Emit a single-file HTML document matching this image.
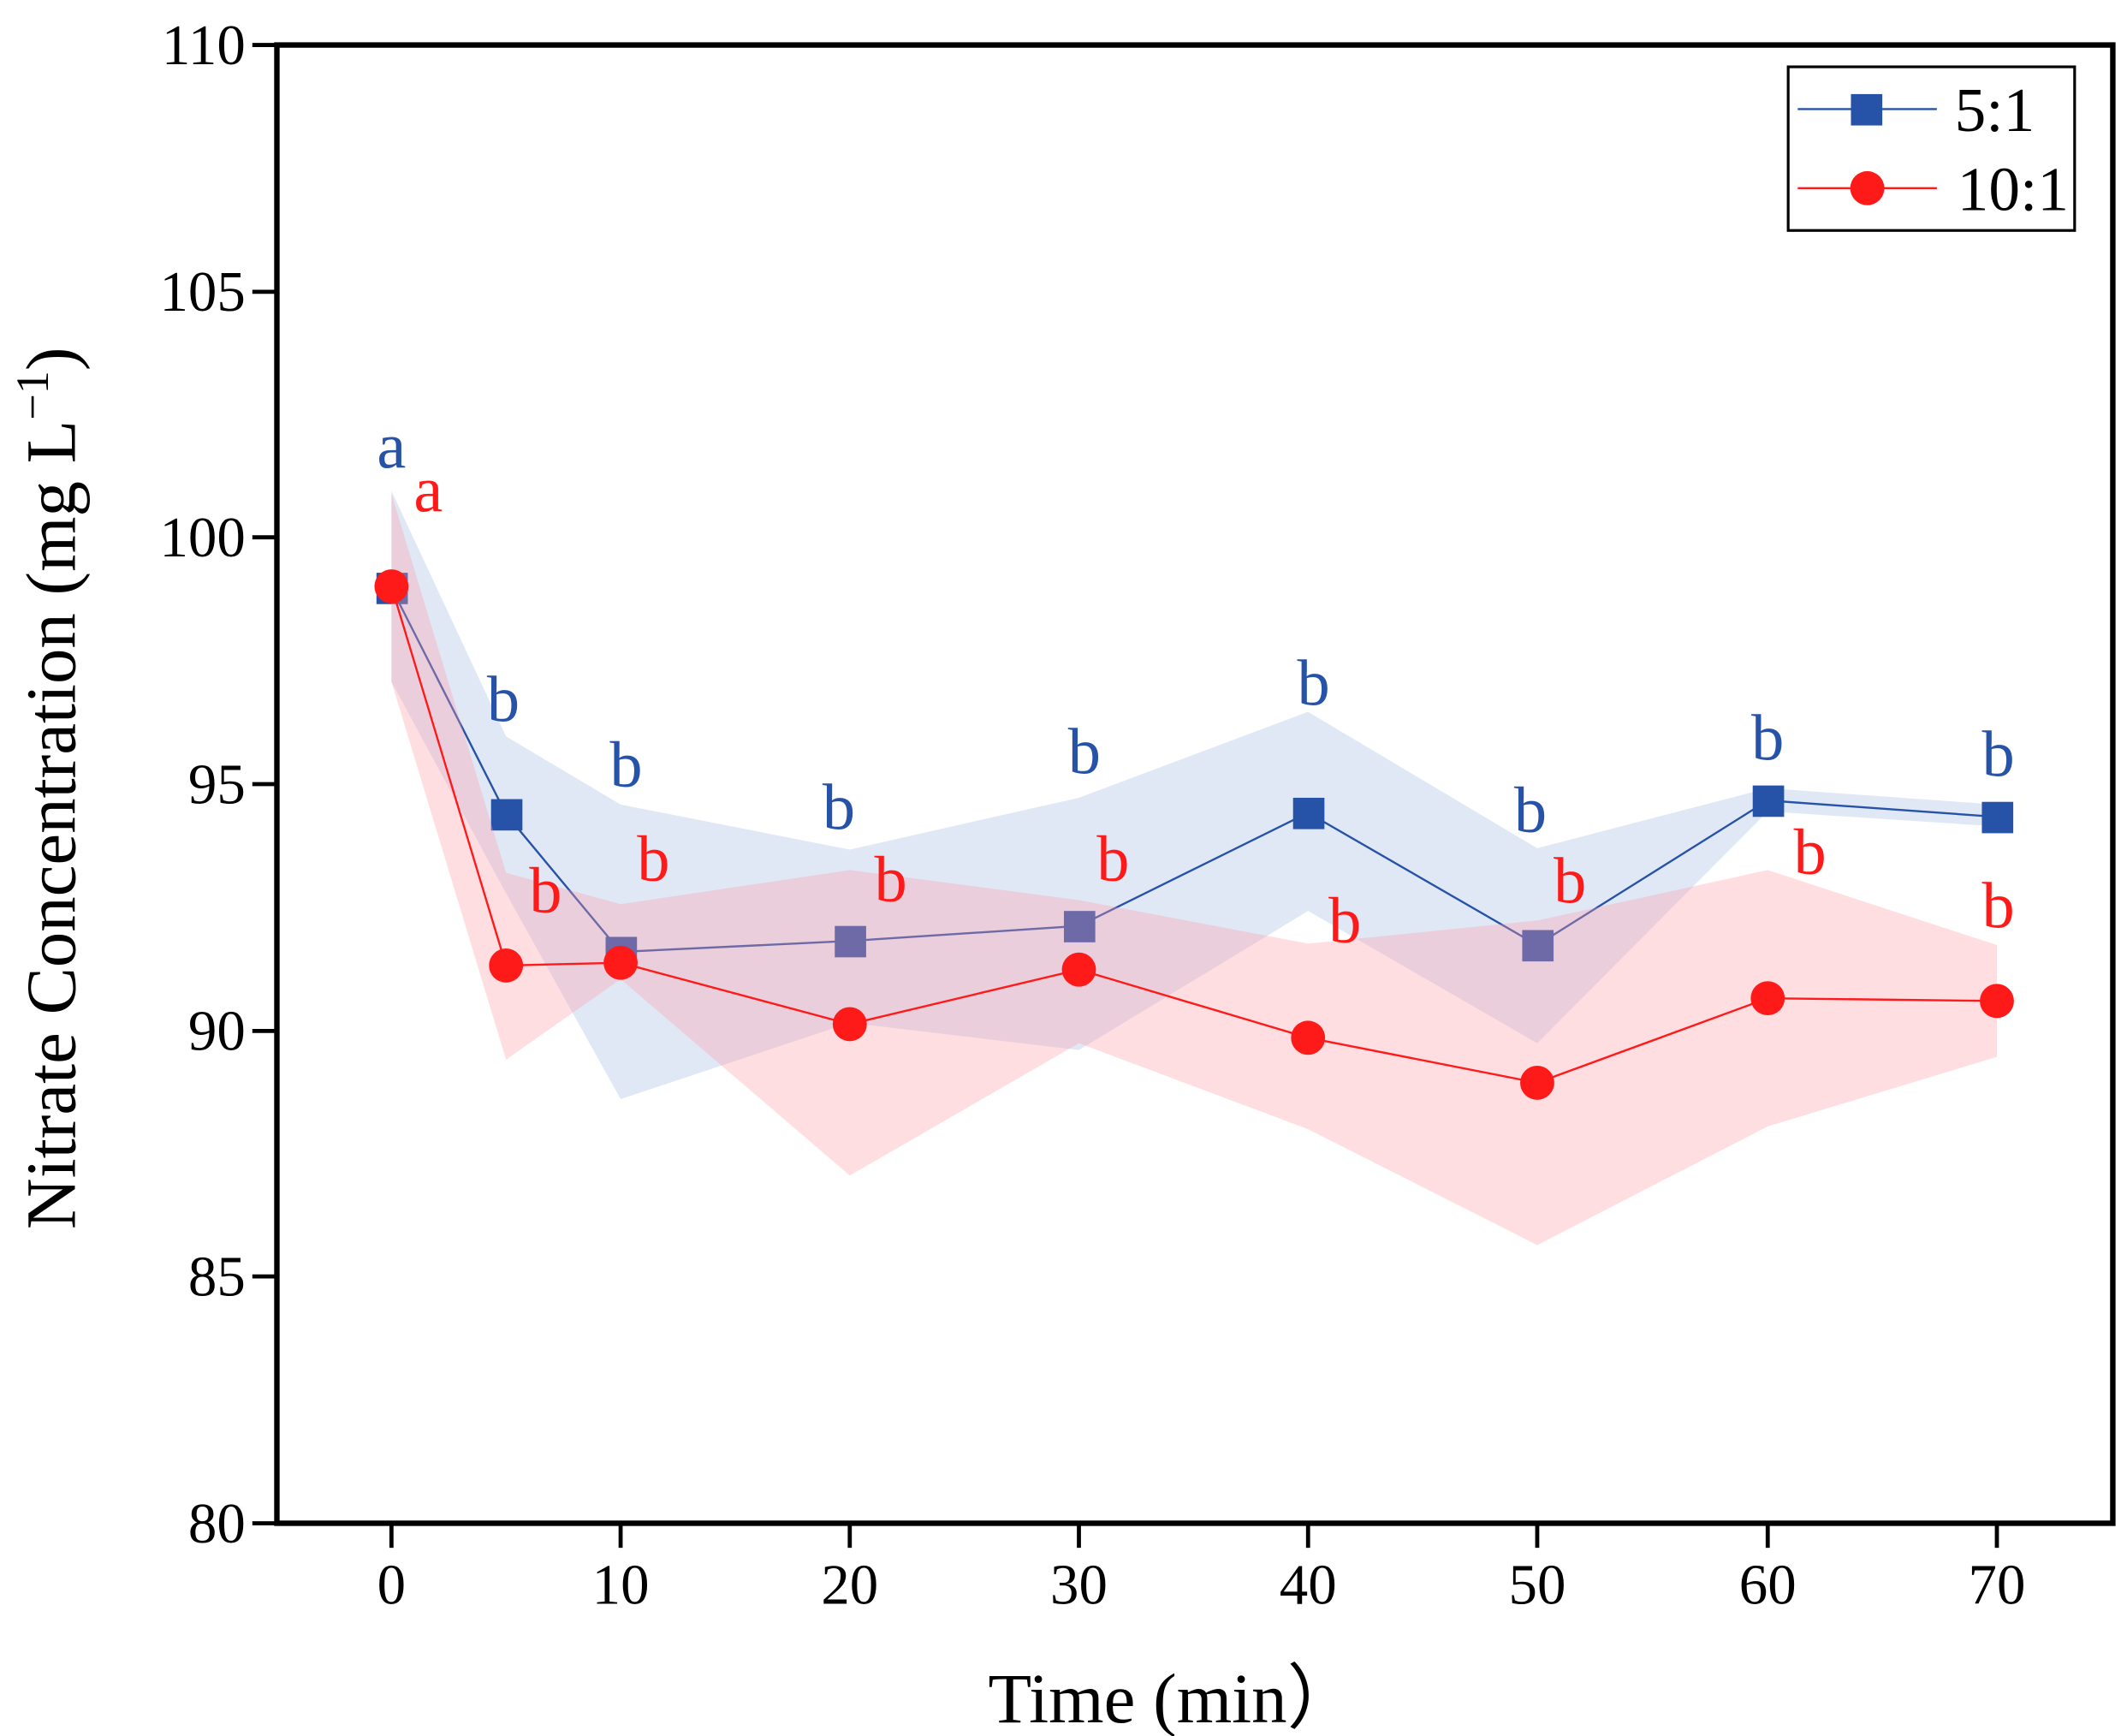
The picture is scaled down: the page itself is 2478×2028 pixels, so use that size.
<!DOCTYPE html>
<html><head><meta charset="utf-8"><style>html,body{margin:0;padding:0;background:#fff}svg{display:block}</style></head>
<body>
<svg width="2478" height="2028" viewBox="0 0 1555 1273" preserveAspectRatio="none" xmlns="http://www.w3.org/2000/svg" font-family="'Liberation Serif', serif">
<rect width="1555" height="1273" fill="#fff"/>
<polygon fill="#c2d2ee" fill-opacity="0.5" points="287,360 371,540 455,590 623,623 791,585 959,522 1127,622 1296,578 1464,590 1464,606 1296,595 1127,765 959,668 791,770 623,750 455,806 371,655 287,500"/>
<polyline fill="none" stroke="#2652a8" stroke-width="1.5" points="287,431 371,597 455,698 623,690 791,679 959,596 1127,693 1296,587 1464,599"/>
<g fill="#2652a8">
<rect x="276" y="420" width="23" height="23"/><rect x="360" y="586" width="23" height="23"/><rect x="444" y="687" width="23" height="23"/><rect x="612" y="679" width="23" height="23"/><rect x="780" y="668" width="23" height="23"/><rect x="948" y="585" width="23" height="23"/><rect x="1116" y="682" width="23" height="23"/><rect x="1285" y="576" width="23" height="23"/><rect x="1453" y="588" width="23" height="23"/>
</g>
<polygon fill="#ff9aa8" fill-opacity="0.33" points="287,362 371,640 455,663 623,638 791,660 959,692 1127,675 1296,638 1464,693 1464,775 1296,826 1127,913 959,828 791,765 623,862 455,718 371,777 287,500"/>
<polyline fill="none" stroke="#ff1a1a" stroke-width="1.5" points="287,430 371,708 455,706 623,751 791,711 959,761 1127,794 1296,732 1464,734"/>
<g fill="#ff1a1a">
<circle cx="287" cy="430" r="12.5"/><circle cx="371" cy="708" r="12.5"/><circle cx="455" cy="706" r="12.5"/><circle cx="623" cy="751" r="12.5"/><circle cx="791" cy="711" r="12.5"/><circle cx="959" cy="761" r="12.5"/><circle cx="1127" cy="794" r="12.5"/><circle cx="1296" cy="732" r="12.5"/><circle cx="1464" cy="734" r="12.5"/>
</g>
<g font-size="48" text-anchor="middle" fill="#2652a8">
<text x="287" y="343">a</text><text x="369" y="529">b</text><text x="459" y="577">b</text><text x="615" y="608">b</text><text x="795" y="567">b</text><text x="963" y="517">b</text><text x="1122" y="610">b</text><text x="1296" y="557">b</text><text x="1465" y="569">b</text>
</g>
<g font-size="48" text-anchor="middle" fill="#ff1a1a">
<text x="314" y="375">a</text><text x="400" y="669">b</text><text x="479" y="646">b</text><text x="653" y="661">b</text><text x="816" y="646">b</text><text x="986" y="691">b</text><text x="1151" y="662">b</text><text x="1327" y="641">b</text><text x="1465" y="680">b</text>
</g>
<rect x="203" y="33" width="1346" height="1084" fill="none" stroke="#000" stroke-width="4"/>
<g stroke="#000" stroke-width="3">
<line x1="185" y1="33" x2="203" y2="33"/><line x1="185" y1="214" x2="203" y2="214"/><line x1="185" y1="394" x2="203" y2="394"/><line x1="185" y1="575" x2="203" y2="575"/><line x1="185" y1="756" x2="203" y2="756"/><line x1="185" y1="936" x2="203" y2="936"/><line x1="185" y1="1117" x2="203" y2="1117"/>
<line x1="287" y1="1117" x2="287" y2="1135"/><line x1="455" y1="1117" x2="455" y2="1135"/><line x1="623" y1="1117" x2="623" y2="1135"/><line x1="791" y1="1117" x2="791" y2="1135"/><line x1="959" y1="1117" x2="959" y2="1135"/><line x1="1127" y1="1117" x2="1127" y2="1135"/><line x1="1296" y1="1117" x2="1296" y2="1135"/><line x1="1464" y1="1117" x2="1464" y2="1135"/>
</g>
<g font-size="42" text-anchor="end">
<text x="180" y="47">110</text><text x="180" y="228">105</text><text x="180" y="408">100</text><text x="180" y="589">95</text><text x="180" y="770">90</text><text x="180" y="950">85</text><text x="180" y="1131">80</text>
</g>
<g font-size="42" text-anchor="middle">
<text x="287" y="1176">0</text><text x="455" y="1176">10</text><text x="623" y="1176">20</text><text x="791" y="1176">30</text><text x="959" y="1176">40</text><text x="1127" y="1176">50</text><text x="1296" y="1176">60</text><text x="1464" y="1176">70</text>
</g>
<text x="860" y="1263" font-size="52" text-anchor="middle">Time (min）</text>
<text transform="translate(55,578) rotate(-90)" font-size="52" text-anchor="middle">Nitrate Concentration (mg L<tspan dy="-20" font-size="34">−1</tspan><tspan dy="20">)</tspan></text>
<rect x="1311" y="49" width="210" height="120" fill="#fff" stroke="#000" stroke-width="2"/>
<line x1="1318" y1="80" x2="1420" y2="80" stroke="#2652a8" stroke-width="1.5"/>
<rect x="1357" y="69" width="23" height="23" fill="#2652a8"/>
<line x1="1318" y1="138" x2="1420" y2="138" stroke="#ff1a1a" stroke-width="1.5"/>
<circle cx="1369" cy="138" r="12.5" fill="#ff1a1a"/>
<text x="1433" y="96" font-size="46">5:1</text>
<text x="1435" y="154" font-size="46">10:1</text>
</svg>
</body></html>
